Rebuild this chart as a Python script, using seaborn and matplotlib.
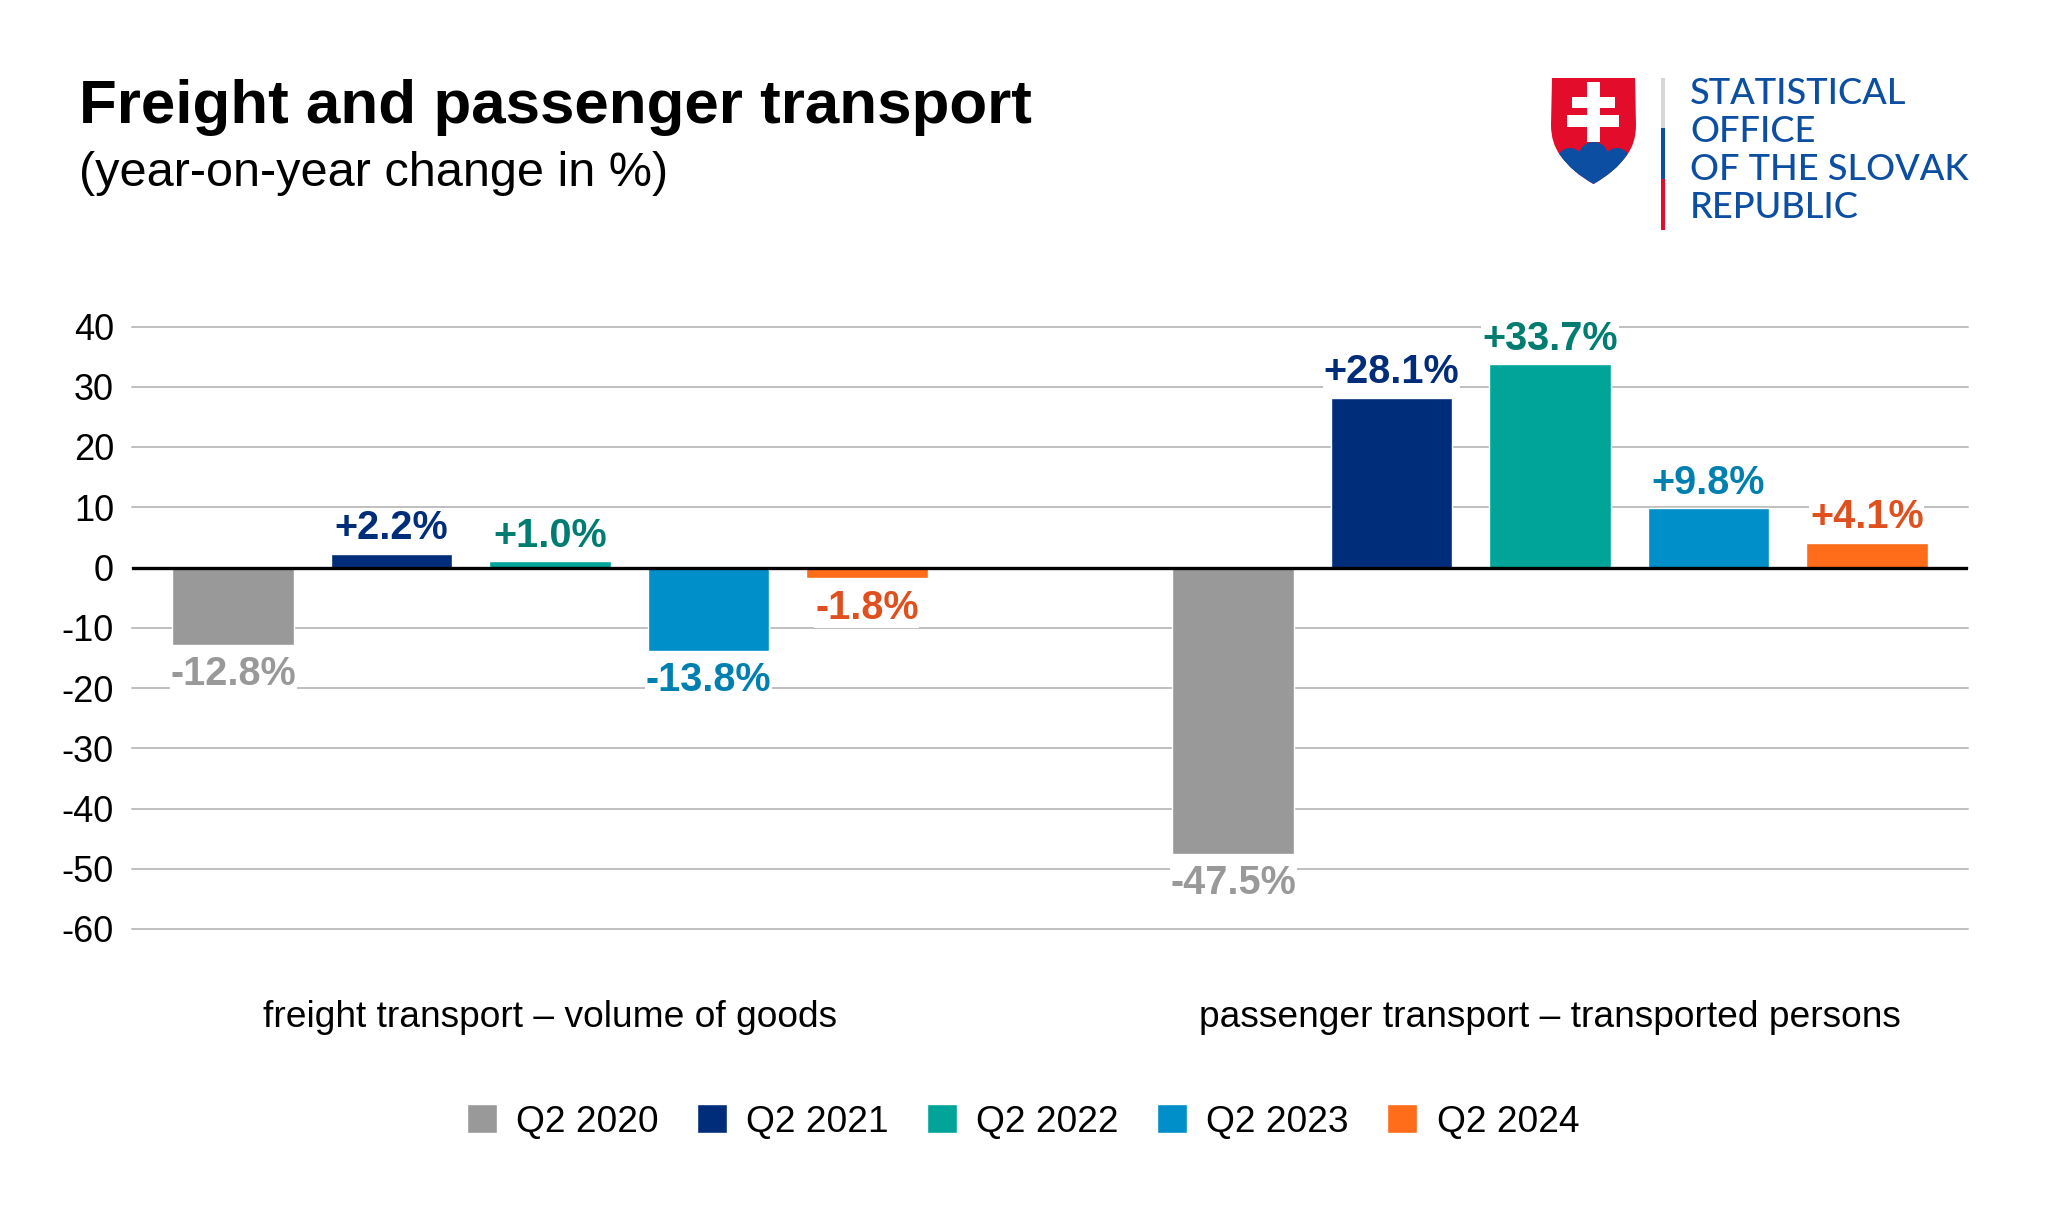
import matplotlib
matplotlib.use("Agg")
import matplotlib.pyplot as plt
import matplotlib.patches as mpatches
from matplotlib.path import Path
import pandas as pd
import seaborn as sns

categories = ["freight transport – volume of goods", "passenger transport – transported persons"]
quarters = ["Q2 2020", "Q2 2021", "Q2 2022", "Q2 2023", "Q2 2024"]
freight = [-12.8, 2.2, 1.0, -13.8, -1.8]
passenger = [-47.5, 28.1, 33.7, 9.8, 4.1]
bar_colors = ["#999999", "#002D7A", "#00A499", "#008FC8", "#FF6C1A"]
label_colors = ["#999999", "#002D7A", "#007D70", "#0080B0", "#E0501E"]
y_ticks = [40, 30, 20, 10, 0, -10, -20, -30, -40, -50, -60]

W, H = 2048, 1210

sns.set_theme(style="white")
plt.rcParams["font.family"] = ["Liberation Sans", "DejaVu Sans"]
plt.rcParams["axes.unicode_minus"] = False
plt.rcParams["text.color"] = "black"

df = pd.DataFrame({
    "category": [categories[0]] * 5 + [categories[1]] * 5,
    "quarter": quarters * 2,
    "value": freight + passenger,
})

fig = plt.figure(figsize=(W / 100, H / 100), dpi=100, facecolor="white")
ax = fig.add_axes([132 / W, 1 - 929 / H, (1968 - 132) / W, (929 - 326.5) / H])

sns.barplot(data=df, x="category", y="value", hue="quarter", hue_order=quarters,
            palette=bar_colors, width=0.792, gap=0.232, saturation=1,
            ax=ax, zorder=3)

ax.set_xlim(-0.418, 1.418)
ax.set_ylim(-60, 40)
ax.set_yticks(y_ticks)
ax.set_xlabel("")
ax.set_ylabel("")
ax.grid(axis="y", color="#BFBFBF", lw=1.4, zorder=0, clip_on=False)
ax.grid(axis="x", visible=False)
ax.set_axisbelow(True)
sns.despine(ax=ax, left=True, bottom=True, top=True, right=True)
ax.axhline(0, color="black", lw=2.4, zorder=4)
ax.tick_params(axis="y", length=0, pad=13, labelsize=26, labelcolor="black")
ax.tick_params(axis="x", length=0, pad=51, labelsize=26.7, labelcolor="black")

# value labels, white box hides the grid behind them
for i, cont in enumerate(ax.containers):
    vals = [freight[i], passenger[i]]
    texts = ax.bar_label(cont, labels=[f"{v:+.1f}%" for v in vals], padding=5,
                         color=label_colors[i], fontsize=28.5, fontweight="bold", zorder=5)
    for t, v in zip(texts, vals):
        t.set_bbox(dict(facecolor="white", edgecolor="none", pad=0.5))
        if v < 0:
            t.xyann = (0, -7.5)

ax.legend(loc="center", bbox_to_anchor=(1023 / W, 1 - 1122 / H),
          bbox_transform=fig.transFigure, ncol=5, frameon=False, fontsize=26.7,
          handlelength=0.8, handleheight=0.8, handletextpad=0.53, columnspacing=1.03,
          title=None)

fig.text(79 / W, 1 - 123 / H, "Freight and passenger transport", fontsize=44.6,
         fontweight="bold", color="black", va="baseline")
fig.text(79 / W, 1 - 186 / H, "(year-on-year change in %)", fontsize=35,
         color="black", va="baseline")

# logo on a pixel overlay
logo = fig.add_axes([0, 0, 1, 1], facecolor="none")
logo.set_xlim(0, W)
logo.set_ylim(H, 0)
logo.axis("off")

shield_verts = [(1552, 78), (1635, 78), (1636, 125), (1636, 143), (1627, 155),
                (1615, 172), (1593.5, 184), (1572, 172), (1560, 155),
                (1551, 143), (1551, 125), (1552, 78)]
shield_codes = [Path.MOVETO, Path.LINETO, Path.LINETO, Path.CURVE3, Path.CURVE3,
                Path.CURVE3, Path.CURVE3, Path.CURVE3, Path.CURVE3,
                Path.CURVE3, Path.CURVE3, Path.CLOSEPOLY]
shield = mpatches.PathPatch(Path(shield_verts, shield_codes), fc="#E30D2B", ec="none")
logo.add_patch(shield)
for cx, cy, r in [(1570, 161, 13), (1593.5, 157, 15), (1617, 161, 13)]:
    c = mpatches.Circle((cx, cy), r, fc="#0B4EA2", ec="none")
    logo.add_patch(c)
    c.set_clip_path(shield)
low = mpatches.Rectangle((1545, 160), 100, 30, fc="#0B4EA2", ec="none")
logo.add_patch(low)
low.set_clip_path(shield)
for x, y, w, h in [(1587, 82, 13, 60), (1572, 97, 43, 11), (1567, 115, 52, 12)]:
    logo.add_patch(mpatches.Rectangle((x, y), w, h, fc="white", ec="none"))
for y0, y1, col in [(78, 128, "#D5D8DA"), (128, 179, "#0B4EA2"), (179, 230, "#E30D2B")]:
    logo.add_patch(mpatches.Rectangle((1661, y0), 3.5, y1 - y0, fc=col, ec="none"))
for y, line in zip([93, 132, 170, 207], ["STATISTICAL", "OFFICE", "OF THE SLOVAK", "REPUBLIC"]):
    logo.text(1690, y, line, fontsize=26, color="#0B4EA2", va="center", ha="left",
              family="Lato", fontweight="medium")

fig.savefig("out.png", dpi=100, facecolor="white")
